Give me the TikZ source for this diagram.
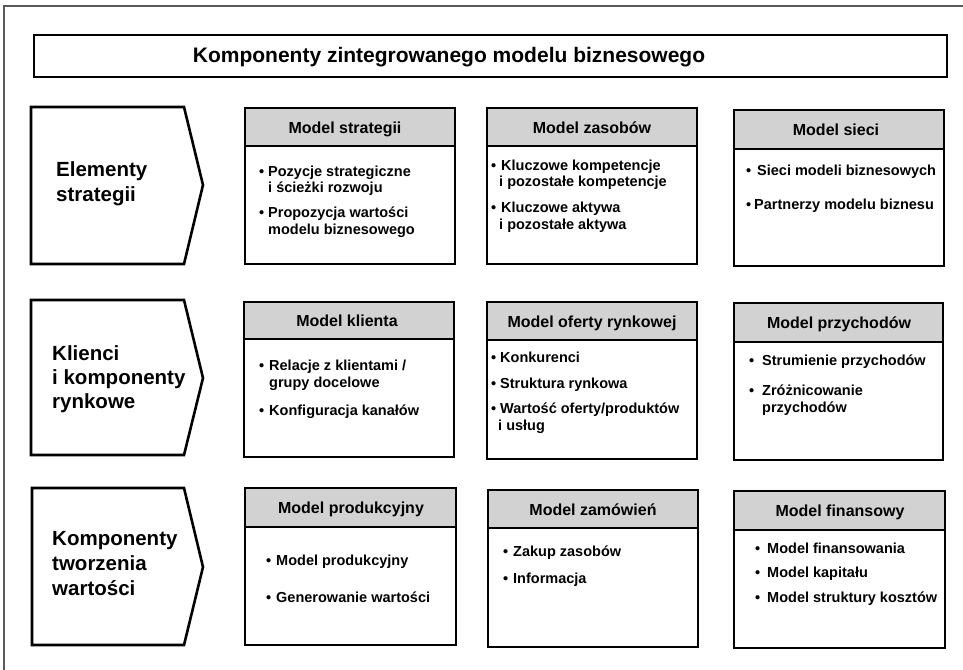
\documentclass[tikz,border=0pt]{standalone}
\usepackage{fontspec}
\setmainfont{Liberation Sans}
\definecolor{hdrgray}{HTML}{D2D2D2}
\definecolor{framegray}{HTML}{5A5A5A}
\newcommand\bitem[5]{\node[bt] (#1b) at (#2,#4) {\textbullet}; \node[bt] (#1) at (#3,#4) {#5};}
\newcommand\bcont[4]{\node[bt] (#1) at (#2,#3) {#4};}
\begin{document}
\begin{tikzpicture}[x=1pt,y=-1pt,
  boxline/.style={draw=black, line width=2.6pt, line join=miter},
  hdrfill/.style={fill=hdrgray},
  bt/.style={anchor=base west, inner sep=0pt, font=\bfseries\fontsize{14.5}{16}\selectfont},
  ht/.style={anchor=base, inner sep=0pt, font=\bfseries\fontsize{16}{19}\selectfont},
  lt/.style={anchor=base west, inner sep=0pt, font=\bfseries\fontsize{20.5}{24}\selectfont},
  tt/.style={anchor=base, inner sep=0pt, font=\bfseries\fontsize{21}{25}\selectfont}]
\useasboundingbox (0,0) rectangle (963,669);
\fill[white] (0,0) rectangle (963,669);
% outer frame (cut at right and bottom)
\draw[draw=framegray, line width=1.6pt] (990,6) -- (4,6) -- (4,700);
% title
\draw[boxline] (34,35) rectangle (947,77);
\node[tt] (title) at (449,63) {Komponenty zintegrowanego modelu biznesowego};

% left arrows
\draw[boxline] (31,107) -- (184,107) -- (203,185) -- (184,264) -- (31,264) -- cycle;
\node[lt] (a1a) at (56,176) {Elementy};
\node[lt] (a1b) at (56,201) {strategii};
\draw[boxline] (31,300) -- (184,300) -- (203,378) -- (184,455) -- (31,455) -- cycle;
\node[lt] (a2a) at (52,360) {Klienci};
\node[lt] (a2b) at (52,384) {i komponenty};
\node[lt] (a2c) at (52,408) {rynkowe};
\draw[boxline] (32,488) -- (184,488) -- (203,567) -- (184,645) -- (32,645) -- cycle;
\node[lt] (a3a) at (52,545) {Komponenty};
\node[lt] (a3b) at (52,570) {tworzenia};
\node[lt] (a3c) at (52,595) {wartości};

% row 1 boxes
\filldraw[boxline, hdrfill] (245,108) rectangle (455,146);
\draw[boxline] (245,146) rectangle (455,264);
\node[ht] (h11) at (345,133) {Model strategii};
\bitem{p11a}{259}{268}{176}{Pozycje strategiczne}
\bcont{p11c}{268}{192}{i ścieżki rozwoju}
\bitem{p11d}{259}{268}{217}{Propozycja wartości}
\bcont{p11e}{268}{234}{modelu biznesowego}

\filldraw[boxline, hdrfill] (487,108) rectangle (697,146);
\draw[boxline] (487,146) rectangle (697,264);
\node[ht] (h12) at (592,133) {Model zasobów};
\bitem{p12a}{491}{501}{170}{Kluczowe kompetencje}
\bcont{p12c}{499}{186}{i pozostałe kompetencje}
\bitem{p12d}{491}{501}{212}{Kluczowe aktywa}
\bcont{p12e}{499}{229}{i pozostałe aktywa}

\filldraw[boxline, hdrfill] (734,110) rectangle (944,149);
\draw[boxline] (734,149) rectangle (944,266);
\node[ht] (h13) at (836,135) {Model sieci};
\bitem{p13a}{746}{757}{175}{Sieci modeli biznesowych}
\bitem{p13b}{746}{754}{209}{Partnerzy modelu biznesu}

% row 2 boxes
\filldraw[boxline, hdrfill] (244,302) rectangle (454,339);
\draw[boxline] (244,339) rectangle (454,457);
\node[ht] (h21) at (347,326) {Model klienta};
\bitem{p21a}{259}{269}{370}{Relacje z klientami /}
\bcont{p21c}{269}{387}{grupy docelowe}
\bitem{p21d}{259}{269}{415}{Konfiguracja kanałów}

\filldraw[boxline, hdrfill] (487,302) rectangle (697,340);
\draw[boxline] (487,340) rectangle (697,459);
\node[ht] (h22) at (592,327) {Model oferty rynkowej};
\bitem{p22a}{491}{500}{362}{Konkurenci}
\bitem{p22b}{491}{500}{388}{Struktura rynkowa}
\bitem{p22c}{491}{500}{413}{Wartość oferty/produktów}
\bcont{p22e}{498}{430}{i usług}

\filldraw[boxline, hdrfill] (734,303) rectangle (943,342);
\draw[boxline] (734,342) rectangle (943,460);
\node[ht] (h23) at (839,328) {Model przychodów};
\bitem{p23a}{749}{762}{365}{Strumienie przychodów}
\bitem{p23b}{749}{762}{395}{Zróżnicowanie}
\bcont{p23c}{762}{412}{przychodów}

% row 3 boxes
\filldraw[boxline, hdrfill] (245,488) rectangle (456,527);
\draw[boxline] (245,527) rectangle (456,645);
\node[ht] (h31) at (351,513) {Model produkcyjny};
\bitem{p31a}{266}{276}{565}{Model produkcyjny}
\bitem{p31b}{266}{276}{602}{Generowanie wartości}

\filldraw[boxline, hdrfill] (488,490) rectangle (698,528);
\draw[boxline] (488,528) rectangle (698,647);
\node[ht] (h32) at (593,515) {Model zamówień};
\bitem{p32a}{503}{513}{556}{Zakup zasobów}
\bitem{p32b}{503}{513}{583}{Informacja}

\filldraw[boxline, hdrfill] (734,491) rectangle (945,530);
\draw[boxline] (734,530) rectangle (945,648);
\node[ht] (h33) at (840,516) {Model finansowy};
\bitem{p33a}{755}{767}{553}{Model finansowania}
\bitem{p33b}{755}{767}{577}{Model kapitału}
\bitem{p33c}{755}{767}{602}{Model struktury kosztów}
\end{tikzpicture}
\end{document}
